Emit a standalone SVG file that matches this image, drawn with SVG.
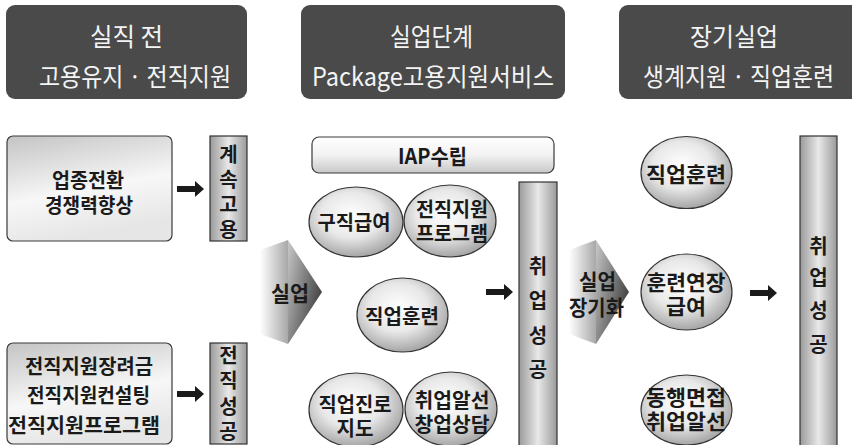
<svg xmlns="http://www.w3.org/2000/svg" width="852" height="445" viewBox="0 0 852 445">
<defs>
<linearGradient id="boxG" x1="0" y1="0" x2="0.3" y2="1">
<stop offset="0" stop-color="#c4c4c4"/>
<stop offset="0.6" stop-color="#f7f7f7"/>
<stop offset="1" stop-color="#e6e6e6"/>
</linearGradient>
<linearGradient id="iapG" x1="0" y1="0" x2="0" y2="1">
<stop offset="0" stop-color="#ffffff"/>
<stop offset="0.5" stop-color="#f2f2f2"/>
<stop offset="1" stop-color="#c8c8c8"/>
</linearGradient>
<linearGradient id="barG" x1="0" y1="0" x2="1" y2="0">
<stop offset="0" stop-color="#9a9a9a"/>
<stop offset="0.5" stop-color="#e8e8e8"/>
<stop offset="1" stop-color="#9a9a9a"/>
</linearGradient>
<radialGradient id="ellG" cx="0.45" cy="0.4" r="0.65">
<stop offset="0" stop-color="#ffffff"/>
<stop offset="0.5" stop-color="#e8e8e8"/>
<stop offset="1" stop-color="#9a9a9a"/>
</radialGradient>
<linearGradient id="bodyG" x1="0" y1="0" x2="1" y2="0">
<stop offset="0" stop-color="#ffffff"/>
<stop offset="1" stop-color="#a8a8a8"/>
</linearGradient>
<linearGradient id="headG" x1="0" y1="0" x2="1" y2="0.6">
<stop offset="0" stop-color="#c8c8c8"/>
<stop offset="1" stop-color="#3e3e3e"/>
</linearGradient>
<path id="arr" d="M0,-3 L18,-3 L18,-8 L27,0 L18,8 L18,3 L0,3 Z" fill="#1a1a1a"/>
</defs>
<style>
.hdr{fill:#4a4a4a}
.ht{font-family:"Noto Sans CJK KR","Noto Sans",sans-serif;font-size:25px;fill:#f4f4f4;text-anchor:middle;dominant-baseline:central}
.t{font-family:"Noto Sans CJK KR","Noto Sans",sans-serif;font-weight:700;fill:#1a1a1a;text-anchor:middle;dominant-baseline:central}
.box{fill:url(#boxG);stroke:#3a3a3a;stroke-width:1.2}
.bar{fill:url(#barG);stroke:#333;stroke-width:1.2}
.ell{fill:url(#ellG);stroke:#333;stroke-width:1.2}
.s20{font-size:20px}.s21{font-size:21px}
</style>
<g id="header1"><rect class="hdr" x="6" y="5" width="241" height="94" rx="9"/><text class="ht" x="126.5" y="35" textLength="73" lengthAdjust="spacingAndGlyphs">실직 전</text><text class="ht" x="135" y="75" textLength="192" lengthAdjust="spacingAndGlyphs">고용유지 · 전직지원</text></g>
<g id="header2"><rect class="hdr" x="301" y="5" width="264" height="94" rx="9"/><text class="ht" x="431.5" y="35" textLength="83" lengthAdjust="spacingAndGlyphs">실업단계</text><text class="ht" x="433" y="75" textLength="242" lengthAdjust="spacingAndGlyphs">Package고용지원서비스</text></g>
<g id="header3"><rect class="hdr" x="619" y="5" width="245" height="94" rx="9"/><text class="ht" x="734" y="35" textLength="88" lengthAdjust="spacingAndGlyphs">장기실업</text><text class="ht" x="738.5" y="75" textLength="191" lengthAdjust="spacingAndGlyphs">생계지원 · 직업훈련</text></g>

<g id="box-upjong"><rect class="box" x="7" y="136" width="165" height="105" rx="6"/><text class="t s20" x="88" y="179" textLength="72" lengthAdjust="spacingAndGlyphs">업종전환</text><text class="t s20" x="89" y="204" textLength="88" lengthAdjust="spacingAndGlyphs">경쟁력향상</text></g>
<g id="bar-gyesok"><rect class="bar" x="210" y="136" width="37" height="105"/><text class="t s20" x="228.5" y="153">계</text><text class="t s20" x="228.5" y="178">속</text><text class="t s20" x="228.5" y="203">고</text><text class="t s20" x="228.5" y="228">용</text></g>
<g id="box-jeonjik"><rect class="box" x="7" y="343" width="165" height="101" rx="6"/><text class="t s20" x="89" y="365" textLength="128" lengthAdjust="spacingAndGlyphs">전직지원장려금</text><text class="t s20" x="88.5" y="394" textLength="123" lengthAdjust="spacingAndGlyphs">전직지원컨설팅</text><text class="t s20" x="84" y="424" textLength="152" lengthAdjust="spacingAndGlyphs">전직지원프로그램</text></g>
<g id="bar-jeonjiksg"><rect class="bar" x="210" y="343" width="37" height="101"/><text class="t s20" x="228.5" y="354">전</text><text class="t s20" x="228.5" y="379">직</text><text class="t s20" x="228.5" y="405">성</text><text class="t s20" x="228.5" y="430">공</text></g>

<g id="arrow-sileop"><polygon points="260,250 288,240 288,344 260,334" fill="url(#bodyG)"/><polygon points="288,240 322,292 288,344" fill="url(#headG)"/><text class="t s21" x="290" y="292" textLength="38" lengthAdjust="spacingAndGlyphs">실업</text></g>

<g id="iap"><rect x="312" y="137" width="242" height="36" rx="7" fill="url(#iapG)" stroke="#3a3a3a" stroke-width="1.2"/><text class="t s21" x="432.5" y="155" textLength="69" lengthAdjust="spacingAndGlyphs" font-weight="500">IAP수립</text></g>
<g id="e-gujik"><ellipse class="ell" cx="356" cy="222" rx="47" ry="35"/><text class="t s20" x="354" y="221" textLength="73" lengthAdjust="spacingAndGlyphs">구직급여</text></g>
<g id="e-jeonjik"><ellipse class="ell" cx="450" cy="221" rx="46" ry="36"/><text class="t s20" x="452" y="208" textLength="72" lengthAdjust="spacingAndGlyphs">전직지원</text><text class="t s20" x="452" y="232" textLength="72" lengthAdjust="spacingAndGlyphs">프로그램</text></g>
<g id="e-hunryeon1"><ellipse class="ell" cx="402.5" cy="315" rx="45.5" ry="37"/><text class="t s20" x="402" y="315" textLength="74" lengthAdjust="spacingAndGlyphs">직업훈련</text></g>
<g id="e-jinro"><ellipse class="ell" cx="356" cy="410" rx="47" ry="37"/><text class="t s20" x="355" y="403" textLength="73" lengthAdjust="spacingAndGlyphs">직업진로</text><text class="t s20" x="355" y="427" textLength="37" lengthAdjust="spacingAndGlyphs">지도</text></g>
<g id="e-alseon"><ellipse class="ell" cx="451" cy="409" rx="46" ry="37"/><text class="t s20" x="452" y="399" textLength="75" lengthAdjust="spacingAndGlyphs">취업알선</text><text class="t s20" x="452" y="423" textLength="75" lengthAdjust="spacingAndGlyphs">창업상담</text></g>
<g id="bar-success1"><rect class="bar" x="519" y="182" width="38" height="270"/><text class="t s20" x="538" y="265">취</text><text class="t s20" x="538" y="299">업</text><text class="t s20" x="538" y="334">성</text><text class="t s20" x="538" y="368">공</text></g>

<g id="arrow-janggi"><polygon points="569,250 596,240 596,344 569,334" fill="url(#bodyG)"/><polygon points="596,240 629,292 596,344" fill="url(#headG)"/><text class="t s21" x="597.5" y="280" textLength="37" lengthAdjust="spacingAndGlyphs">실업</text><text class="t s21" x="596.5" y="306" textLength="55" lengthAdjust="spacingAndGlyphs">장기화</text></g>

<g id="e-hunryeon2"><ellipse class="ell" cx="686.5" cy="172.5" rx="45.5" ry="36"/><text class="t s21" x="686" y="173" textLength="80" lengthAdjust="spacingAndGlyphs">직업훈련</text></g>
<g id="e-yeonjang"><ellipse class="ell" cx="686.5" cy="292" rx="45.5" ry="38"/><text class="t s21" x="686" y="281" textLength="79" lengthAdjust="spacingAndGlyphs">훈련연장</text><text class="t s21" x="686" y="305" textLength="40" lengthAdjust="spacingAndGlyphs">급여</text></g>
<g id="e-donghaeng"><ellipse class="ell" cx="686.5" cy="410" rx="45.5" ry="35"/><text class="t s21" x="686" y="396" textLength="80" lengthAdjust="spacingAndGlyphs">동행면접</text><text class="t s21" x="686" y="420" textLength="80" lengthAdjust="spacingAndGlyphs">취업알선</text></g>
<g id="bar-success2"><rect class="bar" x="800" y="136" width="37" height="316"/><text class="t s20" x="818.5" y="245">취</text><text class="t s20" x="818.5" y="276">업</text><text class="t s20" x="818.5" y="309">성</text><text class="t s20" x="818.5" y="343">공</text></g>

<g id="connectors">
<use href="#arr" x="177" y="189"/>
<use href="#arr" x="177" y="394"/>
<use href="#arr" x="486" y="292"/>
<use href="#arr" x="750" y="293"/>
</g>
</svg>
